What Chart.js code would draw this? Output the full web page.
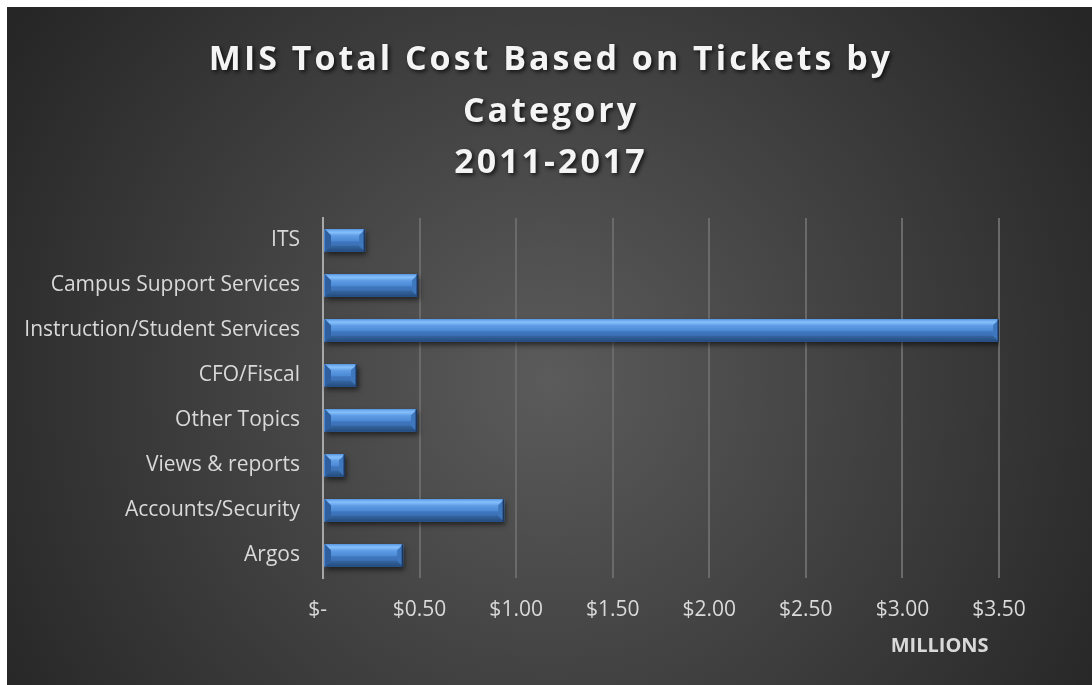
<!DOCTYPE html>
<html>
<head>
<meta charset="utf-8">
<script src="https://cdn.jsdelivr.net/npm/chart.js@4"></script>
<style>
  html, body { margin: 0; padding: 0; background: #fff; overflow: hidden; }
  #wrap { position: fixed; left: 7px; top: 7px; right: 0; bottom: 0; background: #2a2a2a; }
</style>
</head>
<body>
<div id="wrap"><canvas id="costChart"></canvas></div>
<script>
// Ticket categories, top to bottom
const categories = ['ITS', 'Campus Support Services', 'Instruction/Student Services', 'CFO/Fiscal',
                    'Other Topics', 'Views & reports', 'Accounts/Security', 'Argos'];
// Total cost per category, in millions of dollars
const costMillions = [0.218, 0.492, 3.50, 0.176, 0.487, 0.114, 0.938, 0.415];
const titleLines = ['MIS Total Cost Based on Tickets by', 'Category', '2011-2017'];
const axisUnit = 'MILLIONS';
const xMax = 3.5, xStep = 0.5;

const FONT = "'Open Sans', 'DejaVu Sans', sans-serif";
const LABEL = '#d9d9d9';

// dark radial backdrop + the three-line title with its shadow
const backdrop = {
    id: 'backdrop',
    beforeDraw(chart) {
        const { ctx, width, height } = chart;
        const g = ctx.createRadialGradient(width / 2, height * 0.55, 0, width / 2, height * 0.55, 640);
        g.addColorStop(0, '#5b5b5b');
        g.addColorStop(1, '#262626');
        ctx.save();
        ctx.fillStyle = g;
        ctx.fillRect(0, 0, width, height);

        ctx.font = `bold 34px ${FONT}`;
        ctx.letterSpacing = '3px';
        ctx.textAlign = 'center';
        ctx.textBaseline = 'alphabetic';
        ctx.fillStyle = '#f4f4f4';
        ctx.shadowColor = 'rgba(0,0,0,0.75)';
        ctx.shadowBlur = 4;
        ctx.shadowOffsetX = 2;
        ctx.shadowOffsetY = 2;
        const baselines = [63, 115, 166];
        titleLines.forEach((t, i) => ctx.fillText(t, width / 2 + 1.5, baselines[i]));
        ctx.restore();
    }
};

// soft drop shadow under the bars
const barShadow = {
    id: 'barShadow',
    beforeDatasetDraw(chart) {
        const ctx = chart.ctx;
        ctx.save();
        ctx.shadowColor = 'rgba(0,0,0,0.55)';
        ctx.shadowBlur = 5;
        ctx.shadowOffsetX = 2;
        ctx.shadowOffsetY = 3;
    },
    afterDatasetDraw(chart) { chart.ctx.restore(); }
};

// bevelled look painted over each bar element
const bevel = {
    id: 'bevel',
    afterDatasetsDraw(chart) {
        const ctx = chart.ctx;
        chart.getDatasetMeta(0).data.forEach(bar => {
            const { x, y, base, height } = bar.getProps(['x', 'y', 'base', 'height'], true);
            const x0 = Math.min(base, x) + 1, x1 = Math.max(base, x);
            const y0 = y - height / 2, y1 = y + height / 2;
            const b = Math.min(6, (x1 - x0) / 2, height / 2);
            ctx.save();

            const body = ctx.createLinearGradient(0, y0, 0, y1);
            body.addColorStop(0, '#4f8fdf');
            body.addColorStop(0.12, '#80bbf8');
            body.addColorStop(0.28, '#5f9ce5');
            body.addColorStop(0.5, '#4e8bd6');
            body.addColorStop(0.56, '#3f76bd');
            body.addColorStop(0.85, '#3a6db2');
            body.addColorStop(1, '#2a568f');
            ctx.fillStyle = body;
            ctx.fillRect(x0, y0, x1 - x0, y1 - y0);

            const poly = (pts, fill) => {
                ctx.beginPath();
                pts.forEach(([px, py], i) => i ? ctx.lineTo(px, py) : ctx.moveTo(px, py));
                ctx.closePath();
                ctx.fillStyle = fill;
                ctx.fill();
            };
            const top = ctx.createLinearGradient(0, y0, 0, y0 + b);
            top.addColorStop(0, '#5e9de8');
            top.addColorStop(0.5, '#86c0fb');
            top.addColorStop(1, '#64a1e8');
            poly([[x0, y0], [x1, y0], [x1 - b, y0 + b], [x0 + b, y0 + b]], top);
            const bot = ctx.createLinearGradient(0, y1 - b, 0, y1);
            bot.addColorStop(0, '#35669f');
            bot.addColorStop(1, '#234a7e');
            poly([[x0, y1], [x1, y1], [x1 - b, y1 - b], [x0 + b, y1 - b]], bot);
            poly([[x0, y0], [x0 + b, y0 + b], [x0 + b, y1 - b], [x0, y1]], '#2f5f9e');
            poly([[x1, y0], [x1 - b, y0 + b], [x1 - b, y1 - b], [x1, y1]], '#3f77bd');
            ctx.fillStyle = '#1b355c';
            ctx.fillRect(x1 - 1.5, y0, 1.5, y1 - y0);
            ctx.restore();
        });
    }
};

new Chart(document.getElementById('costChart'), {
    type: 'bar',
    data: {
        labels: categories,
        datasets: [{
            data: costMillions,
            backgroundColor: '#4a86d0',
            borderWidth: 0,
            barPercentage: 0.5,
            categoryPercentage: 1
        }]
    },
    options: {
        indexAxis: 'y',
        responsive: true,
        maintainAspectRatio: false,
        animation: false,
        layout: { padding: { top: 211, right: 93, bottom: 0, left: 0 } },
        plugins: {
            legend: { display: false },
            tooltip: { enabled: false }
        },
        scales: {
            x: {
                min: 0,
                max: xMax,
                afterFit: s => { s.height = 107; },
                ticks: {
                    stepSize: xStep,
                    padding: 19,
                    color: LABEL,
                    font: { family: FONT, size: 21 },
                    callback: v => v === 0 ? '$-  ' : '$' + Number(v).toFixed(2)
                },
                grid: { color: '#6a6a6a', lineWidth: 2, drawTicks: false },
                border: { display: false },
                title: {
                    display: true,
                    text: axisUnit + '  ',
                    align: 'end',
                    color: LABEL,
                    font: { family: FONT, size: 20, weight: 'bold' },
                    padding: { top: 0, bottom: 27 }
                }
            },
            y: {
                afterFit: s => { s.width = 316; },
                ticks: {
                    padding: 23,
                    color: LABEL,
                    font: { family: FONT, size: 21 }
                },
                grid: { display: false, drawTicks: false },
                border: { display: true, color: '#a8a8a8', width: 2 }
            }
        }
    },
    plugins: [backdrop, barShadow, bevel]
});
</script>
</body>
</html>
